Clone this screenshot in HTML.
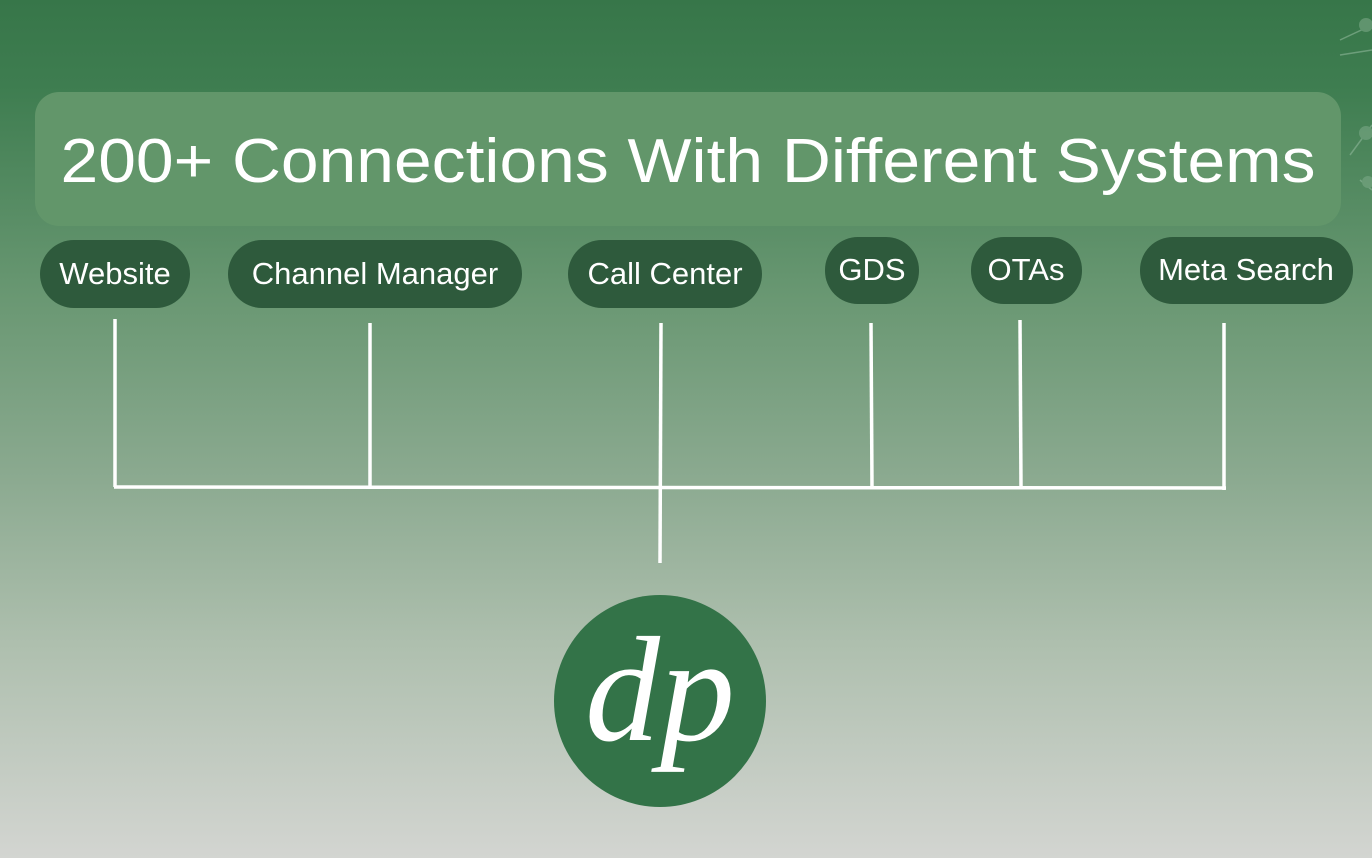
<!DOCTYPE html>
<html><head><meta charset="utf-8"><style>
html,body{margin:0;padding:0;}
body{width:1372px;height:858px;overflow:hidden;background:linear-gradient(180deg,#377649 0%,#3e7d50 10%,#6a9873 35%,#8aa98f 55%,#aebfae 75%,#d3d5d1 100%);}
</style></head><body>
<svg width="1372" height="858" xmlns="http://www.w3.org/2000/svg" style="position:absolute;left:0;top:0">
<g stroke="#8fb79a" stroke-width="1.5" opacity="0.6" fill="#7aa886">
<line x1="1340" y1="40" x2="1372" y2="25"/><line x1="1340" y1="55" x2="1372" y2="50"/>
<line x1="1350" y1="155" x2="1372" y2="125"/><line x1="1360" y1="180" x2="1372" y2="190"/>
<circle cx="1366" cy="25" r="7" stroke="none"/><circle cx="1366" cy="133" r="7" stroke="none"/><circle cx="1368" cy="182" r="6" stroke="none"/>
</g>
<rect x="35" y="92" width="1306" height="134" rx="24" fill="#62966a"/>
<text x="688" y="182" text-anchor="middle" font-family="Liberation Sans, sans-serif" font-size="62" fill="#fff" textLength="1255" lengthAdjust="spacingAndGlyphs">200+ Connections With Different Systems</text>
<g fill="#2e5a3c">
<rect x="40" y="240" width="150" height="68" rx="34"/>
<rect x="228" y="240" width="294" height="68" rx="34"/>
<rect x="568" y="240" width="194" height="68" rx="34"/>
<rect x="825" y="237" width="94" height="67" rx="33"/>
<rect x="971" y="237" width="111" height="67" rx="33"/>
<rect x="1140" y="237" width="213" height="67" rx="33"/>
</g>
<g font-family="Liberation Sans, sans-serif" font-size="31" fill="#fff" text-anchor="middle">
<text x="115" y="284">Website</text>
<text x="375" y="284">Channel Manager</text>
<text x="665" y="284">Call Center</text>
<text x="872" y="280">GDS</text>
<text x="1026" y="280">OTAs</text>
<text x="1246" y="280">Meta Search</text>
</g>
<g stroke="#fff" stroke-width="3.5" fill="none">
<line x1="115" y1="319" x2="115" y2="487"/>
<line x1="370" y1="323" x2="370" y2="487"/>
<line x1="661" y1="323" x2="660" y2="563"/>
<line x1="871" y1="323" x2="872" y2="487"/>
<line x1="1020" y1="320" x2="1021" y2="487"/>
<line x1="1224" y1="323" x2="1224" y2="490"/>
<line x1="114" y1="487" x2="1226" y2="488"/>
</g>
<circle cx="660" cy="701" r="106" fill="#337348"/>
<text x="660" y="740" text-anchor="middle" font-family="Liberation Serif, serif" font-style="italic" font-size="150" fill="#fff">dp</text>
</svg>
</body></html>
